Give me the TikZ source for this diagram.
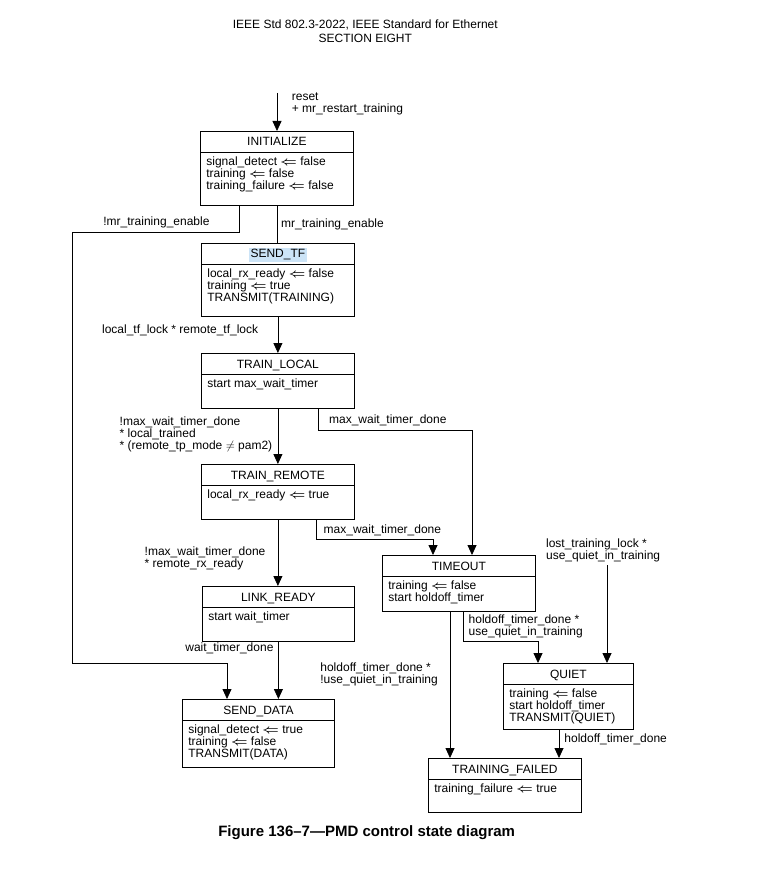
\documentclass[tikz,border=0pt]{standalone}
\usepackage{fontspec}
\setmainfont{Liberation Sans}
\usepackage{xcolor}
\definecolor{selcolor}{RGB}{204,228,247}
\def\asg{\scalebox{1.2}[1]{\boldmath$\Leftarrow$}}
\usepackage{tikz}
\usetikzlibrary{arrows.meta, calc}

\begin{document}
\begin{tikzpicture}[x=1pt,y=-1pt,every path/.style={thick},
  every node/.style={font=\fontsize{12}{12}\selectfont},
  statebox/.style={draw,anchor=north west,inner sep=0pt},
  statetitle/.style={anchor=base,inner xsep=1.5pt,inner ysep=0pt,text height=9.5pt,text depth=4pt},
  statebody/.style={anchor=north west,align=left,inner sep=0pt},
  condlabel/.style={anchor=north west,align=left,inner sep=0pt},
  arr/.style={-{Triangle[length=10pt,width=9pt]}}]
 \fill[white] (0,0) rectangle (763,890);
 \useasboundingbox (0,0) rectangle (763,890);
 \node[align=center,anchor=north,inner sep=0pt,font=\fontsize{12}{14}\selectfont] (hdr) at (365.3,19.5)
   {IEEE Std 802.3-2022, IEEE Standard for Ethernet\\SECTION EIGHT};
 % states: name/x/y/width/height/title fill/title/actions
 \foreach \nm/\x/\y/\w/\h/\fc/\ttl/\bdy in {
   init/200/131/153/74/none/INITIALIZE/{signal\_detect \asg{} false\\training \asg{} false\\training\_failure \asg{} false},
   sendtf/201/243/153/73/selcolor/SEND\_TF/{local\_rx\_ready \asg{} false\\training \asg{} true\\TRANSMIT(TRAINING)},
   trainlocal/201/353/153/55/none/TRAIN\_LOCAL/{start max\_wait\_timer},
   trainremote/201/464/153/55/none/TRAIN\_REMOTE/{local\_rx\_ready \asg{} true},
   linkready/202/586/152/55/none/LINK\_READY/{start wait\_timer},
   senddata/182/699/152/68/none/SEND\_DATA/{signal\_detect \asg{} true\\training \asg{} false\\TRANSMIT(DATA)},
   timeout/382/555/153/56/none/TIMEOUT/{training \asg{} false\\start holdoff\_timer},
   quiet/503/663/130/66/none/QUIET/{training \asg{} false\\start holdoff\_timer\\TRANSMIT(QUIET)},
   tfailed/428/758/153/54/none/TRAINING\_FAILED/{training\_failure \asg{} true}} {
   \node[statebox,minimum width=\w pt,minimum height=\h pt] (\nm) at (\x,\y) {};
   \node[statetitle,fill=\fc] (\nm-t) at ($(\nm.north)+(0,15)$) {\ttl};
   \draw ($(\nm.north west)+(0,21.5)$) -- ($(\nm.north east)+(0,21.5)$);
   \node[statebody] (\nm-b) at ($(\nm.north west)+(6,25.3)$) {\bdy};
 }
 \coordinate (rst) at (277,93);
 \draw[arr] (rst) -- (rst |- init.north);
 \node[condlabel] (c-reset) at (291.5,92) {reset\\+ mr\_restart\_training};
 \draw (init.south) -- (init.south |- sendtf.north);
 \node[condlabel] (c-enable) at (280.7,218) {mr\_training\_enable};
 \coordinate (loopa) at (72,232);
 \coordinate (loopb) at (227,663);
 \draw[arr] ($(init.south west)+(39,0)$) |- (loopa) |- (loopb) -- (loopb |- senddata.north);
 \node[condlabel] (c-notenable) at (103,216.3) {!mr\_training\_enable};
 \draw[arr] (sendtf.south) -- (sendtf.south |- trainlocal.north);
 \node[condlabel] (c-tflock) at (101.7,324.5) {local\_tf\_lock * remote\_tf\_lock};
 \draw[arr] (trainlocal.south) -- (trainlocal.south |- trainremote.north);
 \node[condlabel] (c-trained) at (119.3,416.3)
   {!max\_wait\_timer\_done\\* local\_trained\\* (remote\_tp\_mode $\neq$ pam2)};
 \coordinate (tla) at (472,430);
 \draw[arr] ($(trainlocal.south west)+(117,0)$) |- (tla) -- (tla |- timeout.north);
 \node[condlabel] (c-maxdone1) at (328.7,414.5) {max\_wait\_timer\_done};
 \coordinate (tra) at (433,539);
 \draw[arr] ($(trainremote.south west)+(115,0)$) |- (tra) -- (tra |- timeout.north);
 \node[condlabel] (c-maxdone2) at (323.3,524) {max\_wait\_timer\_done};
 \draw[arr] (trainremote.south) -- (trainremote.south |- linkready.north);
 \node[condlabel] (c-rxready) at (144.3,546.3) {!max\_wait\_timer\_done\\* remote\_rx\_ready};
 \draw[arr] (linkready.south) -- (linkready.south |- senddata.north);
 \node[condlabel] (c-waitdone) at (185,642) {wait\_timer\_done};
 \draw[arr] ($(timeout.south west)+(68,0)$) coordinate (tof) -- (tof |- tfailed.north);
 \node[condlabel] (c-noquiet) at (320,662) {holdoff\_timer\_done *\\!use\_quiet\_in\_training};
 \coordinate (toq) at (538,641);
 \draw[arr] ($(timeout.south west)+(81,0)$) |- (toq) -- (toq |- quiet.north);
 \node[condlabel] (c-quiet) at (468.3,614.5) {holdoff\_timer\_done *\\use\_quiet\_in\_training};
 \coordinate (lost) at (607,565);
 \draw[arr] (lost) -- (lost |- quiet.north);
 \node[condlabel] (c-lost) at (545.7,538) {lost\_training\_lock *\\use\_quiet\_in\_training};
 \draw[arr] ($(quiet.south west)+(56,0)$) coordinate (qf) -- (qf |- tfailed.north);
 \node[condlabel] (c-holddone) at (564,733) {holdoff\_timer\_done};
 \node[anchor=base,inner sep=0pt,font=\bfseries\fontsize{15}{18}\selectfont] (cap) at (366.7,836.7)
   {Figure 136–7—PMD control state diagram};
\end{tikzpicture}
\end{document}
